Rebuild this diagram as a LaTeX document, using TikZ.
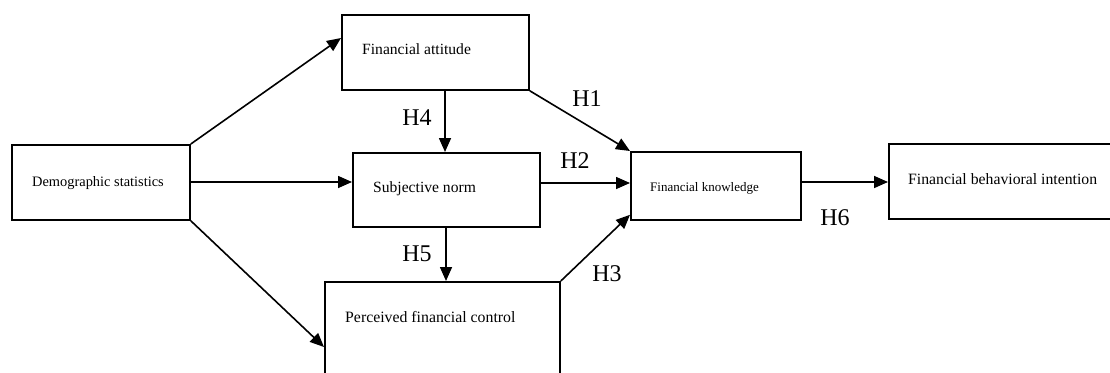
\documentclass[tikz,border=0pt]{standalone}
\usepackage{fontspec}
\setmainfont{Liberation Serif}
\usetikzlibrary{arrows.meta,calc}
\begin{document}
\begin{tikzpicture}[x=1pt,y=-1pt,
  box/.style={draw,line width=1.8pt,inner sep=0pt,anchor=north west},
  conn/.style={line width=1.6pt,-{Triangle[length=14pt,width=12pt]}},
  lbl/.style={inner sep=0pt,font=\fontsize{24}{28}\selectfont},
  txt/.style={inner sep=0pt,anchor=base west}]
\clip (0,0) rectangle (1110,372);
\fill[white] (0,0) rectangle (1110,372);
% boxes
\node[box,minimum width=178pt,minimum height=75pt] (DS) at (11,144) {};
\node[box,minimum width=187pt,minimum height=75pt] (FA) at (341,14) {};
\node[box,minimum width=187pt,minimum height=74pt] (SN) at (352,152) {};
\node[box,minimum width=235pt,minimum height=120pt] (PFC) at (324,281) {};
\node[box,minimum width=170pt,minimum height=68pt] (FK) at (630,151) {};
\node[box,minimum width=240pt,minimum height=75pt] (FBI) at (888,143) {};
% texts
\node[txt,font=\fontsize{14.4}{17}\selectfont] (DSt) at (32,186) {Demographic statistics};
\node[txt,font=\fontsize{15.6}{18}\selectfont] (FAt) at (362,54) {Financial attitude};
\node[txt,font=\fontsize{15.6}{18}\selectfont] (SNt) at (373,192) {Subjective norm};
\node[txt,font=\fontsize{15.8}{18}\selectfont] (PFCt) at (345,322) {Perceived financial control};
\node[txt,font=\fontsize{13}{15}\selectfont] (FKt) at (650,191) {Financial knowledge};
\node[txt,font=\fontsize{15.75}{18}\selectfont] (FBIt) at (908,184) {Financial behavioral intention};
% connectors
\coordinate (faIn) at ($(FA.north west)+(0,24)$);
\coordinate (pfcIn) at ($(PFC.north west)+(0,66)$);
\coordinate (dsR) at ($(DS.north east)+(0,38)$);
\coordinate (faOut) at ($(FA.south west)+(104,0)$);
\coordinate (snIn) at ($(SN.north west)+(93,0)$);
\coordinate (snOut) at ($(SN.south west)+(94,0)$);
\coordinate (pfcTop) at ($(PFC.north west)+(122,0)$);
\coordinate (snR) at ($(SN.north east)+(0,31)$);
\coordinate (fkIn3) at ($(FK.south west)+(0,-6)$);
\coordinate (fkR) at ($(FK.north east)+(0,31)$);
\draw[conn] (DS.north east) -- (faIn);
\draw[conn] (dsR) -- (dsR -| SN.west);
\draw[conn] (DS.south east) -- (pfcIn);
\draw[conn] (faOut) -- (snIn);
\draw[conn] (FA.south east) -- (FK.north west);
\draw[conn] (snR) -- (snR -| FK.west);
\draw[conn] (snOut) -- (pfcTop);
\draw[conn] (PFC.north east) -- (fkIn3);
\draw[conn] (fkR) -- (fkR -| FBI.west);
% labels
\node[lbl] (H1) at (587,99) {H1};
\node[lbl] (H2) at (575,161) {H2};
\node[lbl] (H3) at (607,274) {H3};
\node[lbl] (H4) at (417,118) {H4};
\node[lbl] (H5) at (417,254) {H5};
\node[lbl] (H6) at (835,218) {H6};
\end{tikzpicture}
\end{document}
